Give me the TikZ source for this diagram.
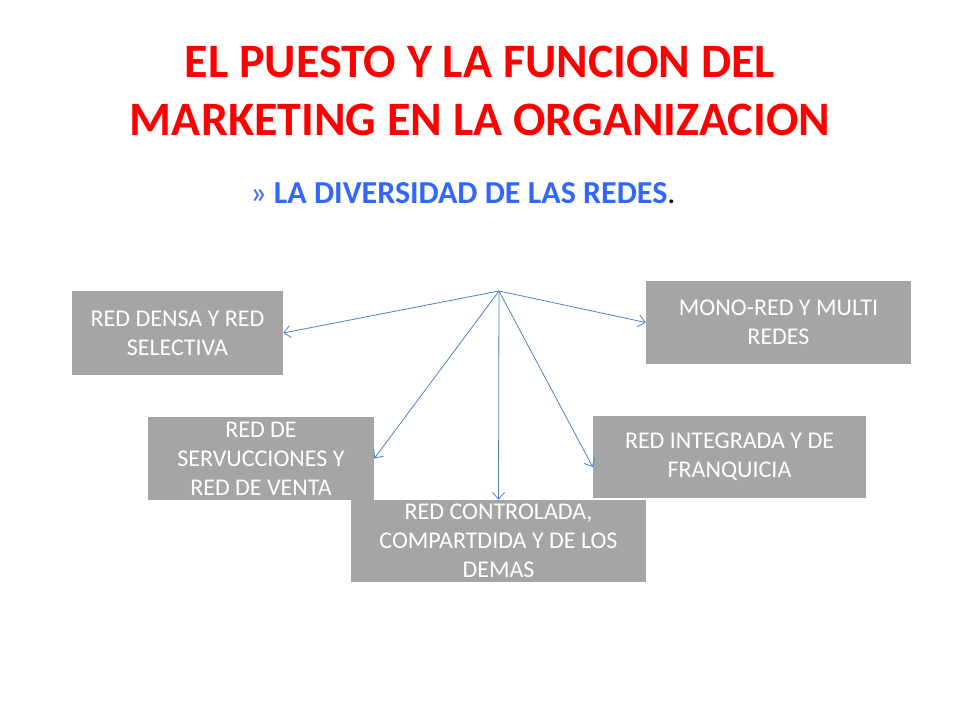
\documentclass[tikz,border=0pt]{standalone}
\usepackage{fontspec}
\setmainfont{Carlito}
\usetikzlibrary{arrows.meta}
\definecolor{titred}{HTML}{FF0000}
\definecolor{subblue}{HTML}{3366FF}
\definecolor{boxgray}{HTML}{A5A5A5}
\definecolor{arrblue}{HTML}{4F81BD}
\begin{document}
\begin{tikzpicture}[x=0.75pt,y=-0.75pt,
  boxnode/.style={fill=boxgray, text=white, align=center, inner sep=0pt,
    font=\fontsize{18}{21.75}\selectfont},
  conn/.style={draw=arrblue, line width=0.6pt, -{Straight Barb[length=5pt,width=9pt]}}]
\useasboundingbox (0,0) rectangle (960,720);
\node[font=\fontsize{36}{43}\selectfont\bfseries, text=titred, align=center] (title) at (480,91)
  {EL PUESTO Y LA FUNCION DEL\\MARKETING EN LA ORGANIZACION};
\node[anchor=west, inner sep=0pt] (sub) at (250,193)
  {\fontsize{24}{28}\selectfont\color{subblue}»\ \textbf{LA DIVERSIDAD DE LAS REDES}\color{black}.};
\node[boxnode, minimum width=211*0.75pt, minimum height=84*0.75pt] (b1) at (177.5,333)
  {RED DENSA Y RED\\SELECTIVA};
\node[boxnode, minimum width=226*0.75pt, minimum height=83*0.75pt] (b2) at (261,458.5)
  {RED DE\\SERVUCCIONES Y\\RED DE VENTA};
\node[boxnode, minimum width=295*0.75pt, minimum height=82*0.75pt] (b3) at (498.5,541)
  {RED CONTROLADA,\\COMPARTDIDA Y DE LOS\\DEMAS};
\node[boxnode, minimum width=265*0.75pt, minimum height=83*0.75pt] (b4) at (778.5,322.5)
  {MONO-RED Y MULTI\\REDES};
\node[boxnode, minimum width=273*0.75pt, minimum height=82*0.75pt] (b5) at (729.5,457)
  {RED INTEGRADA Y DE\\FRANQUICIA};
\coordinate (hub) at (499,291);
\draw[conn] (hub) -- (b1.east);
\draw[conn] (hub) -- (b2.east);
\draw[conn] (hub) -- (b3.north);
\draw[conn] (hub) -- (b4.west);
\draw[conn] (hub) -- ([yshift=-7.5pt]b5.west);
\end{tikzpicture}
\end{document}
